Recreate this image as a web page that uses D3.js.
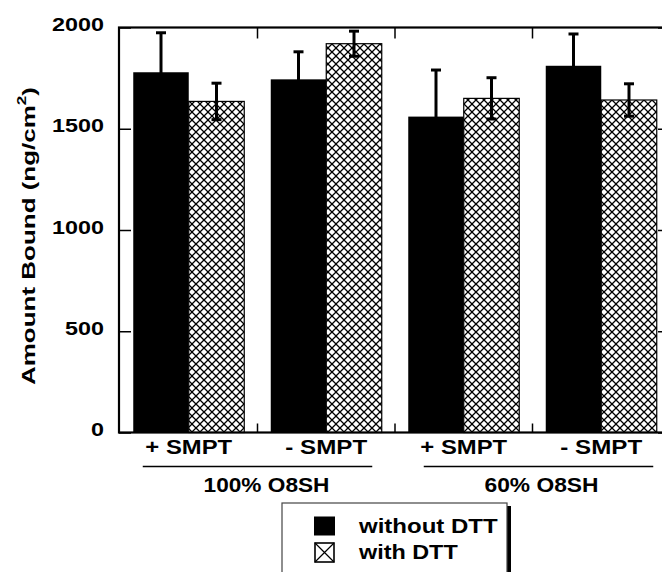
<!DOCTYPE html>
<html><head><meta charset="utf-8">
<script src="https://cdn.jsdelivr.net/npm/d3@7"></script>
<style>body{margin:0;background:#fff}</style>
</head><body><svg id="c" width="662" height="572"></svg>
<script>
// ---- data ----
const categories = ["+ SMPT", "- SMPT", "+ SMPT", "- SMPT"];
const groups = ["100% O8SH", "60% O8SH"];
const seriesNames = ["without DTT", "with DTT"];
const withoutDTT = [1779, 1744, 1560, 1811];
const withoutDTTErr = [195, 136, 230, 157];
const withDTT = [1635, 1920, 1650, 1642];
const withDTTErr = [90, 62, 102, 80];
const yTicks = [0, 500, 1000, 1500, 2000];
const yTitle = "Amount Bound (ng/cm";

const FONT = "'Liberation Sans', Arial, Helvetica, sans-serif";
const svg = d3.select("#c");
svg.append("rect").attr("width", 662).attr("height", 572).attr("fill", "#fff");

const pLeft = 119, pRight = 669, pTop = 27.5, pBottom = 432.5;
const x = d3.scaleBand().domain(d3.range(categories.length)).range([120, 670]).padding(0);
const y = d3.scaleLinear().domain([0, 2000]).range([pBottom, pTop]);
const barW = 55.5;

// pattern
const defs = svg.append("defs");
const pat = defs.append("pattern").attr("id", "hatch").attr("patternUnits", "userSpaceOnUse")
  .attr("width", 8).attr("height", 8);
pat.append("rect").attr("width", 8).attr("height", 8).attr("fill", "#fff");
pat.append("path").attr("d", "M0,0L8,8M8,0L0,8").attr("stroke", "#000").attr("stroke-width", 1.25);
[[4,4],[0,0],[8,0],[0,8],[8,8]].forEach(p => pat.append("circle").attr("cx", p[0]).attr("cy", p[1]).attr("r", 1.1).attr("fill", "#000"));

function fitText(parent, str, tx, ty, target, size, anchor, rotate) {
  const g = parent.append("g");
  const t = g.append("text").attr("font-size", size).attr("font-weight", "bold")
    .attr("font-family", FONT).attr("text-anchor", anchor).attr("fill", "#000").text(str);
  const w = t.node().getBBox().width;
  const k = target / w;
  g.attr("transform", `translate(${tx},${ty}) rotate(${rotate || 0}) scale(${k},1)`);
  return t;
}

const cx = i => x(i) + x.bandwidth() / 2;

// bars
const bars = svg.append("g");
bars.selectAll("rect.b").data(withoutDTT).join("rect").attr("class", "b")
  .attr("x", (d, i) => cx(i) - barW).attr("width", barW)
  .attr("y", d => y(d)).attr("height", d => y(0) - y(d)).attr("fill", "#000");
bars.selectAll("rect.h").data(withDTT).join("rect").attr("class", "h")
  .attr("x", (d, i) => cx(i)).attr("width", barW)
  .attr("y", d => y(d)).attr("height", d => y(0) - y(d))
  .attr("fill", "url(#hatch)").attr("stroke", "#000").attr("stroke-width", 1.2);

// error bars
function errBars(vals, errs, offset) {
  const g = svg.append("g").attr("stroke", "#000").attr("stroke-width", 3);
  vals.forEach((v, i) => {
    const ex = cx(i) + offset;
    g.append("line").attr("x1", ex).attr("x2", ex).attr("y1", y(v - errs[i])).attr("y2", y(v + errs[i]));
    [v - errs[i], v + errs[i]].forEach(e => g.append("line")
      .attr("x1", ex - 5).attr("x2", ex + 5).attr("y1", y(e)).attr("y2", y(e)));
  });
}
errBars(withoutDTT, withoutDTTErr, -barW / 2);
errBars(withDTT, withDTTErr, barW / 2);

// frame
svg.append("rect").attr("x", pLeft).attr("y", pTop).attr("width", pRight - pLeft).attr("height", pBottom - pTop)
  .attr("fill", "none").attr("stroke", "#000").attr("stroke-width", 2.2);

// left axis (inward ticks)
const yAxis = d3.axisLeft(y).tickValues(yTicks).tickSizeInner(-12).tickSizeOuter(0).tickPadding(15);
const ga = svg.append("g").attr("transform", `translate(${pLeft},0)`).call(yAxis);
ga.select(".domain").remove();
ga.selectAll(".tick line").attr("stroke", "#000").attr("stroke-width", 1.5);
ga.selectAll(".tick text").remove();
// right axis inward ticks
const yAxisR = d3.axisRight(y).tickValues(yTicks).tickSizeInner(-11).tickSizeOuter(0).tickFormat("");
const gr = svg.append("g").attr("transform", `translate(${pRight},0)`).call(yAxisR);
gr.select(".domain").remove();
gr.selectAll(".tick line").attr("stroke", "#000").attr("stroke-width", 1.5);

// y tick labels (stretched like the reference)
yTicks.forEach(v => {
  const s = String(v);
  fitText(svg, s, 104, y(v) + 3.5, 13 * s.length, 18.5, "end");
});

// top/bottom ticks at group boundaries
const bounds = d3.range(1, categories.length).map(i => x(i));
const tb = svg.append("g").attr("stroke", "#000").attr("stroke-width", 1.5);
bounds.forEach(b => {
  tb.append("line").attr("x1", b).attr("x2", b).attr("y1", pTop).attr("y2", pTop + 11);
  tb.append("line").attr("x1", b).attr("x2", b).attr("y1", pBottom).attr("y2", pBottom - 9);
});

// category labels
categories.forEach((c, i) => {
  fitText(svg, c, cx(i), 453.5, c.startsWith("+") ? 87 : 82, 21, "middle");
});

// group lines and labels
groups.forEach((gname, gi) => {
  const a = cx(gi * 2), b = cx(gi * 2 + 1);
  const mid = (a + b) / 2;
  svg.append("line").attr("x1", a - 46 + gi * 6).attr("x2", b + 46 + gi * 6)
    .attr("y1", 466.5).attr("y2", 466.5).attr("stroke", "#000").attr("stroke-width", 1.6);
  fitText(svg, gname, mid + 9, 492, gi === 0 ? 126 : 114, 21, "middle");
});

// y title
(function () {
  const g = svg.append("g");
  const t = g.append("text").attr("font-size", 19).attr("font-weight", "bold")
    .attr("font-family", FONT).attr("text-anchor", "middle").attr("fill", "#000");
  t.append("tspan").text(yTitle);
  t.append("tspan").attr("font-size", 12.5).attr("dy", -9).text("2");
  t.append("tspan").attr("dy", 9).text(")");
  const w = t.node().getBBox().width;
  g.attr("transform", `translate(35,236) rotate(-90) scale(${298 / w},1)`);
})();

// legend
const lg = svg.append("g");
lg.append("path").attr("d", "M507,506 L511,506 L511,572 L507,572 Z").attr("fill", "#000");
lg.append("rect").attr("x", 282).attr("y", 503).attr("width", 225).attr("height", 100)
  .attr("fill", "#fff").attr("stroke", "#444").attr("stroke-width", 1.2);
lg.append("rect").attr("x", 314).attr("y", 516.5).attr("width", 21).attr("height", 19).attr("fill", "#000");
lg.append("rect").attr("x", 315).attr("y", 543).attr("width", 19).attr("height", 19)
  .attr("fill", "#fff").attr("stroke", "#000").attr("stroke-width", 1.6);
lg.append("path").attr("d", "M315,543L334,562M334,543L315,562").attr("stroke", "#000").attr("stroke-width", 1.2);
fitText(lg, seriesNames[0], 359, 533, 140, 21, "start");
fitText(lg, seriesNames[1], 359, 559, 100, 21, "start");
</script>
</body></html>
